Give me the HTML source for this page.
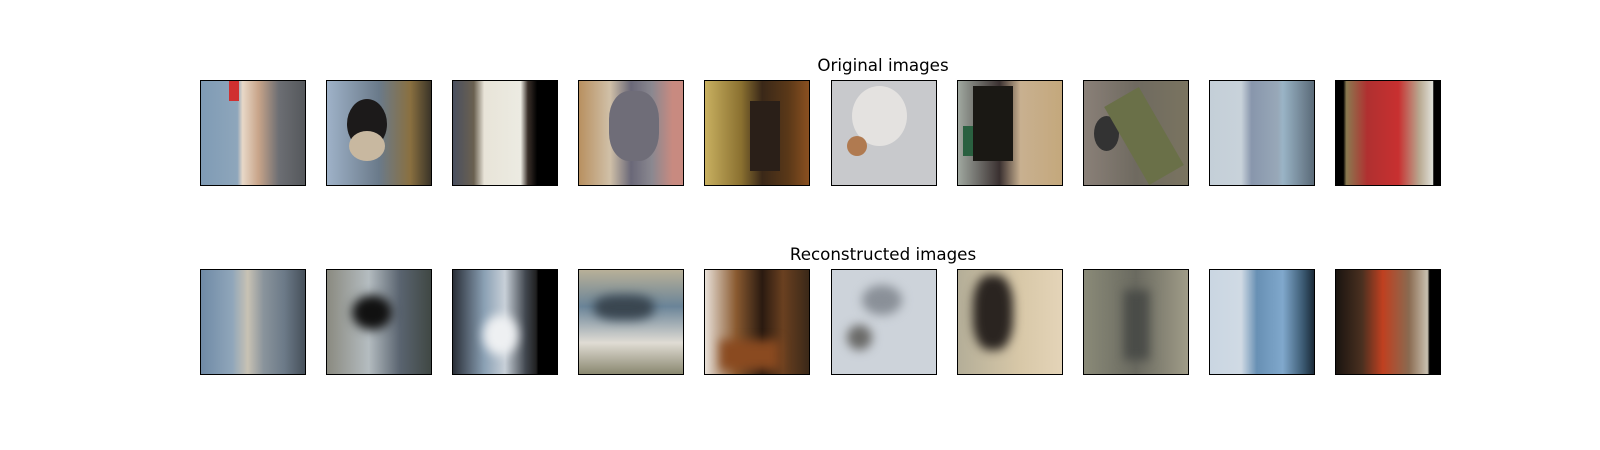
<!DOCTYPE html>
<html><head><meta charset="utf-8"><style>
body{margin:0;background:#fff;width:1600px;height:450px;position:relative;overflow:hidden;font-family:"DejaVu Sans","Liberation Sans",sans-serif}
.t{position:absolute;font-size:16.7px;color:#000;white-space:nowrap;transform:translateX(-50%);line-height:20px}
.b{position:absolute;width:106px;height:106px;border:1px solid #000;box-sizing:border-box;overflow:hidden}
.r1{top:80px}.r2{top:269px}
.b div{position:absolute}
.bl{filter:blur(5px)}
</style></head><body>
<div class="t" style="left:883px;top:55px">Original images</div>
<div class="t" style="left:883px;top:244px">Reconstructed images</div>

<!-- row 1 -->
<div class="b r1" style="left:200px;background:linear-gradient(90deg,#7f9bb5 0%,#8ea6bb 35%,#e8d8c8 40%,#c9a58a 55%,#6c6e73 75%,#55585c 100%)">
<div style="left:28px;top:0;width:10px;height:20px;background:#d03030"></div></div>
<div class="b r1" style="left:326px;background:linear-gradient(90deg,#9fb2c8,#6a7a8a 50%,#8a7040 80%,#3a3428)">
<div style="left:20px;top:18px;width:40px;height:50px;border-radius:50%;background:#1c1a1a"></div>
<div style="left:22px;top:50px;width:36px;height:30px;border-radius:50%;background:#c8b8a0"></div></div>
<div class="b r1" style="left:452px;background:linear-gradient(90deg,#4a5060 0%,#6a6050 20%,#e8e4d8 30%,#ecebe2 65%,#3a302a 72%,#000 81%,#000 100%)"></div>
<div class="b r1" style="left:578px;background:linear-gradient(90deg,#b89060,#d0c0a8 30%,#6a6878 50%,#8a8890 70%,#c88a80 90%)">
<div style="left:30px;top:10px;width:50px;height:70px;border-radius:40%;background:#6f6d78"></div></div>
<div class="b r1" style="left:704px;background:linear-gradient(90deg,#c8b060,#8a7030 35%,#3a2818 55%,#5a3818 80%,#8a5020)">
<div style="left:45px;top:20px;width:30px;height:70px;background:#2a1f18"></div></div>
<div class="b r1" style="left:831px;background:#c8c9cc">
<div style="left:20px;top:5px;width:55px;height:60px;border-radius:50%;background:#e4e2e0"></div>
<div style="left:15px;top:55px;width:20px;height:20px;border-radius:50%;background:#b07a50"></div></div>
<div class="b r1" style="left:957px;background:linear-gradient(90deg,#a0a8a0,#3a3030 40%,#c8b090 60%,#c4a87c)">
<div style="left:5px;top:45px;width:15px;height:30px;background:#2a6040"></div>
<div style="left:15px;top:5px;width:40px;height:75px;background:#1a1814"></div></div>
<div class="b r1" style="left:1083px;background:linear-gradient(90deg,#8a8078,#6f6a60 50%,#7a7460)">
<div style="left:10px;top:35px;width:25px;height:35px;border-radius:50%;background:#333"></div>
<div style="left:40px;top:10px;width:40px;height:90px;background:#6a7048;transform:rotate(-30deg)"></div></div>
<div class="b r1" style="left:1209px;background:linear-gradient(90deg,#c4cfd8,#c8d2da 30%,#8896ac 40%,#98a8b8 65%,#9ab4c6 70%,#5a6a78)"></div>
<div class="b r1" style="left:1335px;background:linear-gradient(90deg,#000 0%,#000 7%,#8a7a50 10%,#b03030 30%,#c83030 60%,#b8a890 80%,#e0e0d8 93%,#000 94%)"></div>

<!-- row 2 -->
<div class="b r2" style="left:200px;background:linear-gradient(90deg,#6f8aa6,#90a6ba 30%,#c8c2b4 45%,#8a949c 60%,#6c7a88 80%,#46505a)"></div>
<div class="b r2" style="left:326px;background:linear-gradient(90deg,#8a8a80,#b4bcc0 40%,#5a6470 70%,#404844)">
<div class="bl" style="left:25px;top:25px;width:40px;height:35px;border-radius:50%;background:#111"></div></div>
<div class="b r2" style="left:452px;background:linear-gradient(90deg,#2a2f38,#8aa0b4 30%,#c8d0d8 50%,#40464e 70%,#202020 80%,#000 82%)">
<div class="bl" style="left:30px;top:45px;width:35px;height:40px;border-radius:50%;background:#eef0f2"></div></div>
<div class="b r2" style="left:578px;background:linear-gradient(180deg,#b8b098,#6a8498 35%,#e0dcd4 70%,#8a8870)">
<div class="bl" style="left:15px;top:25px;width:60px;height:25px;border-radius:40%;background:#3a4650"></div></div>
<div class="b r2" style="left:704px;background:linear-gradient(90deg,#e8e0d8,#8a5a30 30%,#2a1a10 55%,#6a4020 75%,#3a2818)">
<div class="bl" style="left:15px;top:70px;width:60px;height:30px;background:#8a4a20"></div></div>
<div class="b r2" style="left:831px;background:#cdd3da">
<div class="bl" style="left:30px;top:15px;width:40px;height:30px;border-radius:50%;background:#8a9098"></div>
<div class="bl" style="left:15px;top:55px;width:25px;height:25px;border-radius:50%;background:#6a6a68"></div></div>
<div class="b r2" style="left:957px;background:linear-gradient(90deg,#b4ae98,#d8c8a8 60%,#e4d4b8)">
<div class="bl" style="left:15px;top:5px;width:40px;height:75px;border-radius:40%;background:#2a2420"></div></div>
<div class="b r2" style="left:1083px;background:linear-gradient(90deg,#8a8a78,#6a6a60 50%,#a09c88)">
<div class="bl" style="left:40px;top:20px;width:25px;height:70px;background:#4a4c48"></div></div>
<div class="b r2" style="left:1209px;background:linear-gradient(90deg,#cad6e2,#d0dae4 30%,#6890b4 45%,#80a8cc 70%,#3a5870 90%,#1a2a38)"></div>
<div class="b r2" style="left:1335px;background:linear-gradient(90deg,#1a1410,#4a3020 25%,#c04020 45%,#8a6a50 70%,#c8c0b0 88%,#000 90%)"></div>
</body></html>
